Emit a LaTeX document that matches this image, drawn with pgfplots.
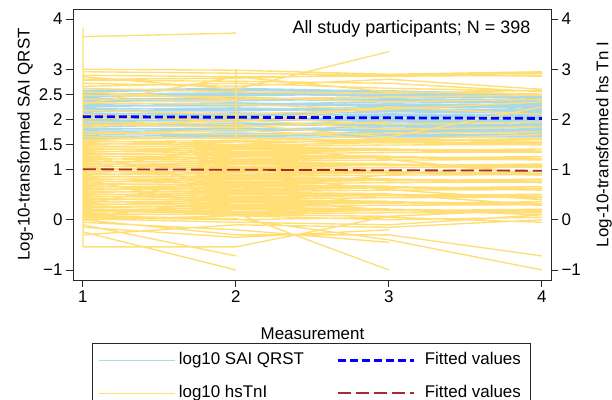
\documentclass[border=0pt]{standalone}
\usepackage{fontspec}
\setmainfont{Liberation Sans}
\usepackage{pgfplots}
\pgfplotsset{compat=1.18}

\definecolor{saicol}{RGB}{173,216,230}
\definecolor{tnicol}{RGB}{255,222,117}
\definecolor{redcol}{RGB}{165,45,45}
\definecolor{framecol}{RGB}{40,40,40}
\newcommand{\fs}{\fontsize{17}{20}\selectfont}

\pgfplotsset{
  saistyle/.style={saicol, line width=1.4bp},
  tnistyle/.style={tnicol, line width=1.35bp},
  fitblue/.style={blue, line width=2.8bp, dash pattern=on 8bp off 4bp},
  fitred/.style={redcol, line width=1.8bp, dash pattern=on 13bp off 5bp},
}

\begin{document}
\begin{tikzpicture}
\begin{axis}[
  at={(73bp,120bp)}, anchor=south west,
  scale only axis, width=478bp, height=271bp,
  xmin=0.935, xmax=4.06, ymin=-1.2, ymax=4.2,
  xtick={1,2,3,4}, xticklabels={1,2,3,4},
  ytick={-1,0,1,1.5,2,2.5,3,4},
  yticklabels={−1,0,1,1.5,2,2.5,3,4},
  xtick pos=bottom, ytick pos=left,
  tick align=outside, major tick length=7bp,
  tick style={framecol, line width=0.9bp},
  axis line style={framecol, line width=0.9bp},
  ticklabel style={font=\fs},
  xlabel={Measurement}, ylabel={Log-10-transformed SAI QRST},
  label style={font=\fs},
  xlabel style={at={(axis description cs:0.501,-0.218)}, anchor=base},
  ylabel style={at={(axis description cs:-0.100,0.5)}, anchor=center},
  unbounded coords=jump,
  legend columns=2,
  legend cell align=left,
  legend image code/.code={\draw[#1] (0bp,0bp) -- (76bp,0bp);},
  legend style={at={(axis description cs:0.04,-0.232)}, anchor=north west,
    draw=framecol, line width=0.7bp, font=\fs,
    inner xsep=6bp, inner ysep=6bp, row sep=11bp,
    nodes={inner sep=3bp, text height=12.5bp, text depth=3.5bp},
    /tikz/every even column/.append style={column sep=30bp}},
]
% log10 SAI QRST, one participant per line (measurements 1-4)
\addplot[saistyle, forget plot] coordinates {
(1,2.58)(2,2.62)(3,2.56)(4,2.50)(4,nan)
(1,2.56)(2,2.58)(3,2.54)(4,2.47)(4,nan)
(1,2.55)(2,2.60)(3,2.57)(4,2.50)(4,nan)
(1,2.52)(2,2.50)(3,2.55)(4,2.49)(4,nan)
(1,2.50)(2,2.53)(3,2.48)(4,2.46)(4,nan)
(1,2.47)(2,2.47)(3,2.51)(4,2.48)(4,nan)
(1,2.45)(2,2.50)(3,2.47)(4,2.42)(4,nan)
(1,2.42)(2,2.40)(3,2.45)(4,2.43)(4,nan)
(1,2.40)(2,2.43)(3,2.38)(4,2.36)(4,nan)
(1,2.37)(2,2.37)(3,2.41)(4,2.39)(4,nan)
(1,2.35)(2,2.40)(3,2.37)(4,2.32)(4,nan)
(1,2.32)(2,2.30)(3,2.35)(4,2.33)(4,nan)
(1,2.30)(2,2.33)(3,2.28)(4,2.26)(4,nan)
(1,2.27)(2,2.27)(3,2.31)(4,2.29)(4,nan)
(1,2.25)(2,2.30)(3,2.27)(4,2.22)(4,nan)
(1,2.22)(2,2.20)(3,2.25)(4,2.23)(4,nan)
(1,2.20)(2,2.23)(3,2.18)(4,2.16)(4,nan)
(1,2.17)(2,2.17)(3,2.21)(4,2.19)(4,nan)
(1,2.15)(2,2.20)(3,2.17)(4,2.12)(4,nan)
(1,2.12)(2,2.10)(3,2.15)(4,2.13)(4,nan)
(1,2.10)(2,2.13)(3,2.08)(4,2.06)(4,nan)
(1,2.07)(2,2.07)(3,2.11)(4,2.09)(4,nan)
(1,2.05)(2,2.10)(3,2.07)(4,2.02)(4,nan)
(1,2.02)(2,2.00)(3,2.05)(4,2.03)(4,nan)
(1,2.00)(2,2.03)(3,1.98)(4,1.96)(4,nan)
(1,1.97)(2,1.97)(3,2.01)(4,1.99)(4,nan)
(1,1.95)(2,2.00)(3,1.97)(4,1.92)(4,nan)
(1,1.92)(2,1.90)(3,1.95)(4,1.93)(4,nan)
(1,1.90)(2,1.93)(3,1.88)(4,1.86)(4,nan)
(1,1.87)(2,1.87)(3,1.91)(4,1.89)(4,nan)
(1,1.85)(2,1.90)(3,1.87)(4,1.82)(4,nan)
(1,1.82)(2,1.80)(3,1.85)(4,1.83)(4,nan)
(1,1.80)(2,1.83)(3,1.78)(4,1.76)(4,nan)
(1,1.77)(2,1.77)(3,1.81)(4,1.79)(4,nan)
(1,1.75)(2,1.80)(3,1.77)(4,1.72)(4,nan)
(1,1.72)(2,1.70)(3,1.75)(4,1.73)(4,nan)
(1,1.70)(2,1.73)(3,1.68)(4,1.68)(4,nan)
(1,1.67)(2,1.67)(3,1.71)(4,1.69)(4,nan)
(1,1.65)(2,1.70)(3,1.67)(4,1.66)(4,nan)
(1,1.62)(2,1.65)(3,1.65)(4,1.65)(4,nan)
};
% log10 hsTnI, one participant per line
\addplot[tnistyle, forget plot] coordinates {
(1,-0.54)(1,3.82)(1,nan)
(2,1.65)(2,3.00)(2,nan)
(1,3.65)(2,3.72)(2,nan)
(1,3.00)(2,2.98)(3,2.90)(4,2.95)(4,nan)
(1,2.95)(2,2.92)(3,2.88)(4,2.92)(4,nan)
(1,2.85)(2,2.60)(3,3.35)(3,nan)
(1,2.88)(2,2.85)(3,2.86)(4,2.88)(4,nan)
(1,2.80)(2,2.82)(3,2.90)(4,2.86)(4,nan)
(1,2.78)(2,2.76)(3,2.72)(4,2.55)(4,nan)
(1,2.72)(2,2.66)(3,2.80)(4,2.60)(4,nan)
(1,2.66)(2,2.72)(3,2.62)(4,2.56)(4,nan)
(1,2.62)(2,2.55)(3,2.52)(4,2.58)(4,nan)
(1,2.55)(2,2.40)(3,2.45)(4,2.48)(4,nan)
(1,2.30)(2,2.85)(3,2.55)(4,2.50)(4,nan)
(1,2.48)(2,2.45)(3,2.35)(4,2.40)(4,nan)
(1,2.40)(2,2.38)(2,nan)
(1,2.33)(2,2.30)(3,2.20)(4,2.35)(4,nan)
(1,2.18)(2,2.10)(3,2.20)(3,nan)
(1,2.10)(2,1.95)(3,2.25)(4,2.10)(4,nan)
(1,2.02)(2,2.05)(3,1.90)(4,1.95)(4,nan)
(1,1.95)(2,1.90)(3,1.65)(4,2.25)(4,nan)
(1,1.90)(2,1.85)(3,1.95)(3,nan)
(1,1.85)(2,2.00)(3,1.80)(4,1.85)(4,nan)
(1,1.75)(2,1.70)(3,1.72)(4,1.75)(4,nan)
(1,1.70)(2,1.80)(3,1.60)(4,1.70)(4,nan)
(1,1.65)(2,1.62)(3,1.57)(4,1.60)(4,nan)
(1,1.60)(2,1.64)(3,1.58)(4,1.62)(4,nan)
(1,1.58)(2,1.50)(3,1.62)(4,1.55)(4,nan)
(1,1.55)(2,1.58)(3,1.53)(4,1.56)(4,nan)
(1,1.52)(2,1.48)(3,1.54)(4,1.49)(4,nan)
(1,1.50)(2,1.55)(3,1.56)(4,1.52)(4,nan)
(1,1.47)(2,1.45)(3,1.42)(3,nan)
(1,1.45)(2,1.46)(3,1.49)(4,1.50)(4,nan)
(1,1.42)(2,1.36)(3,1.39)(3,nan)
(1,1.40)(2,1.43)(3,1.38)(4,1.41)(4,nan)
(1,1.37)(2,1.33)(3,1.39)(4,1.34)(4,nan)
(1,1.35)(2,1.40)(3,1.41)(4,1.37)(4,nan)
(1,1.32)(2,1.30)(3,1.27)(3,nan)
(1,1.30)(2,1.31)(3,1.34)(4,1.35)(4,nan)
(1,1.27)(2,1.21)(3,1.24)(3,nan)
(1,1.25)(2,1.28)(3,1.23)(4,1.26)(4,nan)
(1,1.22)(2,1.18)(3,1.24)(4,1.19)(4,nan)
(1,1.20)(2,1.25)(3,1.26)(4,1.22)(4,nan)
(1,1.17)(2,1.15)(3,1.12)(3,nan)
(1,1.15)(2,1.16)(3,1.19)(4,1.20)(4,nan)
(1,1.12)(2,1.06)(3,1.09)(3,nan)
(1,1.10)(2,1.13)(3,1.08)(4,1.11)(4,nan)
(1,1.07)(2,1.03)(3,1.09)(4,1.04)(4,nan)
(1,1.05)(2,1.10)(3,1.11)(4,1.07)(4,nan)
(1,1.02)(2,1.00)(3,0.97)(3,nan)
(1,1.00)(2,1.01)(3,1.04)(4,1.05)(4,nan)
(1,0.97)(2,0.91)(3,0.94)(3,nan)
(1,0.95)(2,0.98)(3,0.93)(4,0.96)(4,nan)
(1,0.92)(2,0.88)(3,0.94)(4,0.89)(4,nan)
(1,0.90)(2,0.95)(3,0.96)(4,0.92)(4,nan)
(1,0.87)(2,0.85)(3,0.82)(3,nan)
(1,0.85)(2,0.86)(3,0.89)(4,0.90)(4,nan)
(1,0.82)(2,0.76)(3,0.79)(3,nan)
(1,0.80)(2,0.83)(3,0.78)(4,0.81)(4,nan)
(1,0.77)(2,0.73)(3,0.79)(4,0.74)(4,nan)
(1,0.75)(2,0.80)(3,0.81)(4,0.77)(4,nan)
(1,0.72)(2,0.70)(3,0.67)(3,nan)
(1,0.70)(2,0.71)(3,0.74)(4,0.75)(4,nan)
(1,0.67)(2,0.61)(3,0.64)(3,nan)
(1,0.65)(2,0.68)(3,0.63)(4,0.66)(4,nan)
(1,0.62)(2,0.58)(3,0.64)(4,0.59)(4,nan)
(1,0.60)(2,0.65)(3,0.66)(4,0.62)(4,nan)
(1,0.57)(2,0.55)(3,0.52)(3,nan)
(1,0.55)(2,0.56)(3,0.59)(4,0.60)(4,nan)
(1,0.52)(2,0.46)(3,0.49)(3,nan)
(1,0.50)(2,0.53)(3,0.48)(4,0.51)(4,nan)
(1,0.47)(2,0.43)(3,0.49)(4,0.44)(4,nan)
(1,0.45)(2,0.50)(3,0.51)(4,0.47)(4,nan)
(1,0.42)(2,0.40)(3,0.37)(3,nan)
(1,0.40)(2,0.41)(3,0.44)(4,0.45)(4,nan)
(1,0.37)(2,0.31)(3,0.34)(3,nan)
(1,0.35)(2,0.38)(3,0.33)(4,0.36)(4,nan)
(1,0.32)(2,0.28)(3,0.34)(4,0.29)(4,nan)
(1,0.30)(2,0.35)(3,0.36)(4,0.32)(4,nan)
(1,0.27)(2,0.25)(3,0.22)(3,nan)
(1,0.25)(2,0.26)(3,0.29)(4,0.30)(4,nan)
(1,0.22)(2,0.16)(3,0.19)(3,nan)
(1,0.20)(2,0.23)(3,0.18)(4,0.21)(4,nan)
(1,0.17)(2,0.13)(3,0.19)(4,0.14)(4,nan)
(1,0.15)(2,0.20)(3,0.21)(4,0.17)(4,nan)
(1,0.12)(2,0.10)(3,0.07)(3,nan)
(1,0.10)(2,0.11)(3,0.14)(4,0.15)(4,nan)
(1,0.30)(2,0.90)(3,0.60)(4,0.40)(4,nan)
(1,1.30)(2,0.60)(3,0.90)(4,1.10)(4,nan)
(1,0.05)(2,0.40)(3,0.20)(4,0.10)(4,nan)
(1,0.80)(2,0.20)(3,0.50)(4,0.30)(4,nan)
(1,1.00)(2,1.50)(3,1.20)(4,0.90)(4,nan)
(1,-0.24)(2,-1.00)(2,nan)
(1,-0.10)(2,-0.72)(2,nan)
(1,-0.54)(2,-0.54)(3,0.07)(4,0.20)(4,nan)
(1,0.20)(2,0.13)(3,-1.00)(3,nan)
(1,0.00)(2,-0.30)(3,-0.30)(4,-0.72)(4,nan)
(1,0.08)(2,0.02)(3,-0.40)(4,-1.00)(4,nan)
(1,-0.15)(2,-0.35)(3,-0.20)(3,nan)
(1,0.02)(2,-0.05)(3,-0.10)(4,0.10)(4,nan)
(1,-0.05)(2,-0.20)(3,-0.45)(3,nan)
(1,-0.30)(2,-0.10)(3,-0.15)(4,0.00)(4,nan)
(1,0.05)(2,0.00)(3,0.05)(4,-0.05)(4,nan)
(1,0.00)(2,0.08)(3,0.00)(4,0.05)(4,nan)
};
% fitted values
\addplot[fitblue, forget plot] coordinates {(1,2.055)(2,2.043)(3,2.032)(4,2.020)};
\addplot[fitred, forget plot] coordinates {(1,1.006)(2,0.997)(3,0.987)(4,0.978)};

\addlegendimage{saistyle}
\addlegendentry{log10 SAI QRST}
\addlegendimage{fitblue}
\addlegendentry{\hspace{6bp}Fitted values\hspace{16bp}}
\addlegendimage{tnistyle}
\addlegendentry{log10 hsTnI}
\addlegendimage{fitred}
\addlegendentry{\hspace{6bp}Fitted values\hspace{16bp}}

\node[anchor=base east, font=\fontsize{18}{21}\selectfont]
  at (rel axis cs:0.964,0.908) {All study participants; N = 398};
\end{axis}

\begin{axis}[
  at={(73bp,120bp)}, anchor=south west,
  scale only axis, width=478bp, height=271bp,
  xmin=0.935, xmax=4.06, ymin=-1.2, ymax=4.2,
  axis x line=none, axis y line*=right,
  ytick={-1,0,1,2,3,4}, yticklabels={−1,0,1,2,3,4},
  tick align=outside, major tick length=7bp,
  tick style={framecol, line width=0.9bp},
  axis line style={framecol, line width=0.9bp},
  ticklabel style={font=\fs},
  ylabel={Log-10-transformed hs Tn I},
  label style={font=\fs},
  ylabel style={at={(axis description cs:1.111,0.5)}, anchor=center},
]
\end{axis}
\pgfresetboundingbox
\path (0bp,0bp) rectangle (612bp,400bp);
\end{tikzpicture}
\end{document}
